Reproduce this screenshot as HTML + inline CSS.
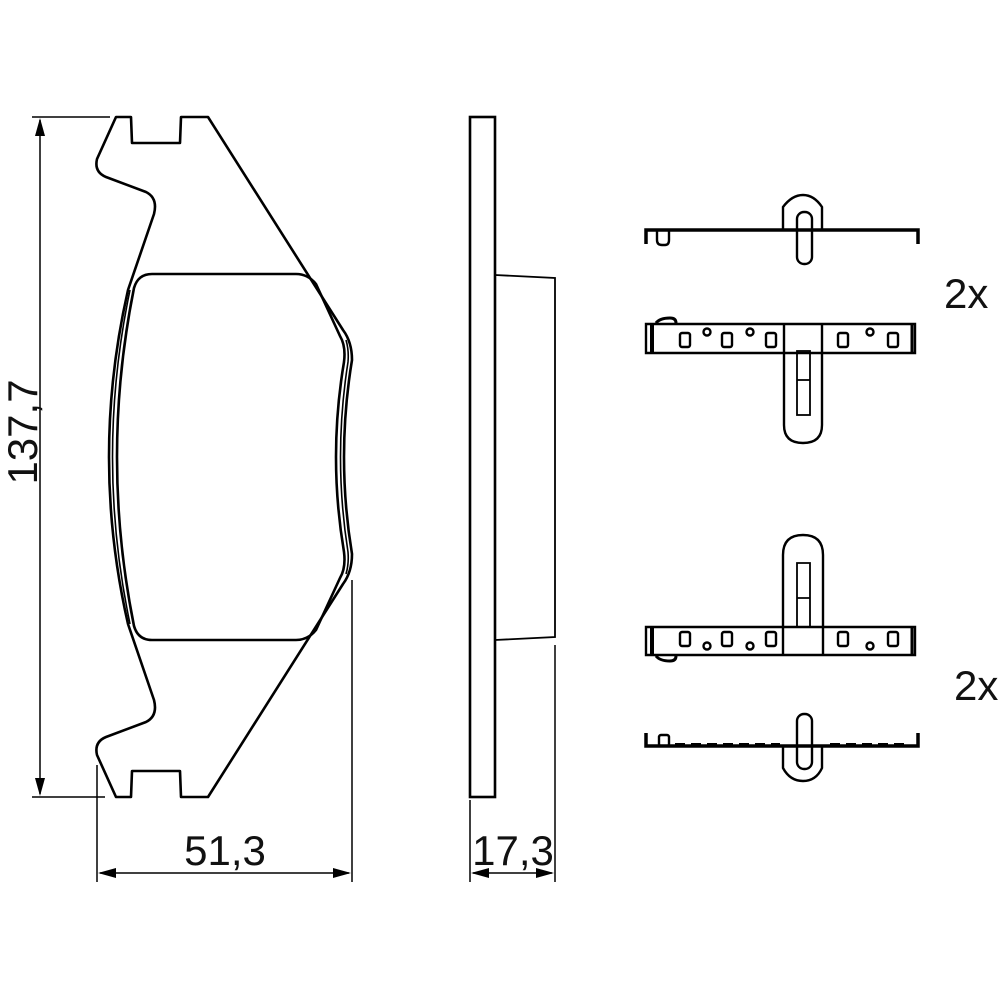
<!DOCTYPE html>
<html><head><meta charset="utf-8"><style>
html,body{margin:0;padding:0;background:#fff}
svg{display:block}
text{font-family:"Liberation Sans",sans-serif;fill:#111}
</style></head><body>
<svg width="1000" height="1000" viewBox="0 0 1000 1000" xmlns="http://www.w3.org/2000/svg">
<g fill="none" stroke="#000" stroke-width="2.6" stroke-linejoin="round">
<path d="M116,117 L131,117 L132,143 L180,143 L181,117 L208,117 L343,330 Q352,342 352,360 Q336,457 352,554 Q352,572 343,584 L208,797 L181,797 L180,771 L132,771 L131,797 L116,797 L97,755 Q94,742 106,737 L146,722 Q158,716 154,700 L128,624 Q90,457 128,290 L154,214 Q158,198 146,192 L106,177 Q94,172 97,159 Z"/>
<path d="M152,274 L296,274 Q308,274 316,284 L340,336 Q346,346 344,362 Q328,457 344,552 Q346,568 340,578 L316,630 Q308,640 296,640 L152,640 Q138,640 134,626 Q100,457 134,288 Q138,274 152,274 Z"/>
<path d="M130,290 Q95,457 130,624" stroke-width="1.6"/>
<path d="M346,340 Q349,350 348,362 Q333,457 348,552 Q349,564 346,574" stroke-width="1.6"/>
</g>
<g stroke="#000" stroke-width="1.5" fill="none">
<line x1="32" y1="117" x2="110" y2="117"/>
<line x1="32" y1="797" x2="105" y2="797"/>
<line x1="40" y1="120" x2="40" y2="794"/>
<line x1="97" y1="765" x2="97" y2="882"/>
<line x1="352" y1="580" x2="352" y2="882"/>
<line x1="100" y1="873" x2="349" y2="873"/>
<line x1="470" y1="800" x2="470" y2="882"/>
<line x1="555" y1="645" x2="555" y2="882"/>
<line x1="473" y1="873" x2="552" y2="873"/>
</g>
<g fill="#000">
<polygon points="40,118 35,136 45,136"/>
<polygon points="40,796 35,778 45,778"/>
<polygon points="98,873 116,868 116,878"/>
<polygon points="351,873 333,868 333,878"/>
<polygon points="471,873 489,868 489,878"/>
<polygon points="554,873 536,868 536,878"/>
</g>
<text x="0" y="0" font-size="42" transform="translate(37,432) rotate(-90)" text-anchor="middle">137,7</text>
<text x="225" y="865" font-size="42" text-anchor="middle">51,3</text>
<text x="513" y="865" font-size="42" text-anchor="middle">17,3</text>
<text x="944" y="308" font-size="42">2x</text>
<text x="954" y="700" font-size="42">2x</text>
<g fill="none" stroke="#000" stroke-width="2.6">
<rect x="470" y="117" width="25" height="680"/>
<path d="M495,275 L555,278 L555,637 L495,640" stroke-width="1.8"/>
</g>
<g fill="none" stroke="#000" stroke-width="2.4">
<path d="M646,244 L646,230 L918,230 L918,244" stroke-width="3.5"/>
<path d="M657,231 L657,240 Q657,245 662,245 L665,245 Q669,245 669,240 L669,231"/>
<path d="M783,230 L783,207 Q792,195 803,195 Q814,195 822,207 L822,230"/>
<rect x="797" y="212" width="15" height="52" rx="7"/>
<path d="M646,324 L915,324 L915,353 L646,353 Z"/>
<line x1="652" y1="325" x2="652" y2="352" stroke-width="4"/>
<line x1="912" y1="325" x2="912" y2="352" stroke-width="3"/>
<path d="M656,323 Q660,318 670,318 Q676,318 676,323" stroke-width="3"/>
<path d="M784,324 L784,425 Q784,443 803,443 Q822,443 822,425 L822,324"/>
<rect x="797" y="351" width="13" height="64" stroke-width="1.8"/>
<line x1="797" y1="380" x2="810" y2="380" stroke-width="1.8"/>
<rect x="680" y="333" width="10" height="14" rx="2"/>
<rect x="722" y="333" width="10" height="14" rx="2"/>
<rect x="766" y="333" width="10" height="14" rx="2"/>
<rect x="838" y="333" width="10" height="14" rx="2"/>
<rect x="888" y="333" width="10" height="14" rx="2"/>
<circle cx="707" cy="332" r="3.5"/><circle cx="750" cy="332" r="3.5"/><circle cx="870" cy="332" r="3.5"/>
<path d="M646,627 L915,627 L915,655 L646,655 Z"/>
<line x1="652" y1="628" x2="652" y2="654" stroke-width="4"/>
<line x1="912" y1="628" x2="912" y2="654" stroke-width="3"/>
<path d="M656,656 Q660,661 670,661 Q676,661 676,656" stroke-width="3"/>
<path d="M783,655 L783,555 Q783,535 803,535 Q823,535 823,555 L823,655"/>
<path d="M797,628 L797,563 L810,563 L810,628 M797,598 L810,598" stroke-width="1.8"/>
<rect x="680" y="632" width="10" height="14" rx="2"/>
<rect x="722" y="632" width="10" height="14" rx="2"/>
<rect x="766" y="632" width="10" height="14" rx="2"/>
<rect x="838" y="632" width="10" height="14" rx="2"/>
<rect x="888" y="632" width="10" height="14" rx="2"/>
<circle cx="707" cy="646" r="3.5"/><circle cx="750" cy="646" r="3.5"/><circle cx="870" cy="646" r="3.5"/>
<path d="M646,733 L646,746 L918,746 L918,733" stroke-width="3.5"/>
<rect x="659" y="735" width="10" height="11" rx="2"/>
<path d="M675,744 L780,744 M830,744 L905,744" stroke-dasharray="10,6" stroke-width="2"/>
<path d="M783,746 L783,768 Q790,781 803,781 Q816,781 822,768 L822,746"/>
<rect x="797" y="714" width="15" height="55" rx="7"/>
</g>
</svg>
</body></html>
